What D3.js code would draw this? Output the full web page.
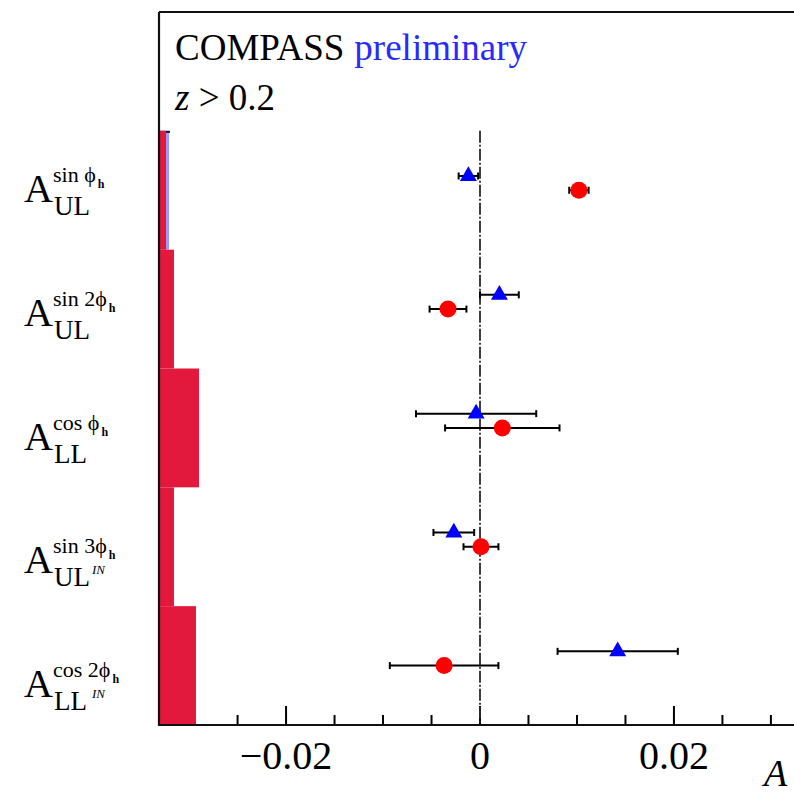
<!DOCTYPE html>
<html>
<head>
<meta charset="utf-8">
<script src="https://cdn.jsdelivr.net/npm/d3@7"></script>
<style>
  html, body { margin: 0; padding: 0; background: #fff; }
  svg { display: block; }
  text { font-family: "Liberation Serif", "DejaVu Serif", serif; }
</style>
</head>
<body>
<svg id="chart" width="794" height="796"></svg>
<script>
// Asymmetry labels, top to bottom
const labelSub   = ["UL", "UL", "LL", "UL", "LL"];
const labelSup   = ["sin \u03D5", "sin 2\u03D5", "cos \u03D5", "sin 3\u03D5", "cos 2\u03D5"];
const labelIN    = [false, false, false, true, true];

// Blue triangles: value and statistical error
const triValue   = [-0.0012, 0.0020, -0.0004, -0.0027, 0.0142];
const triError   = [0.0010, 0.0020, 0.0062, 0.0021, 0.0062];

// Red circles: value and statistical error
const circValue  = [0.0102, -0.0033, 0.0023, 0.0001, -0.0037];
const circError  = [0.0010, 0.0019, 0.0059, 0.0018, 0.0056];

// Systematic uncertainty bands drawn from the left edge
const sysRed     = [0.00062, 0.00144, 0.00402, 0.00144, 0.00371];
const sysBlue    = [0.00093, 0, 0, 0, 0];

// Axis ticks
const majorTicks = [-0.02, 0, 0.02];
const majorTickLabels = ["\u22120.02", "0", "0.02"];
const minorTicks = [-0.03, -0.025, -0.015, -0.01, -0.005, 0.005, 0.01, 0.015, 0.025, 0.03];

const svg = d3.select("#chart");
const frameLeft = 159, frameTop = 12, frameBottom = 725;

const x = d3.scaleLinear().domain([-0.033, 0.033]).range([160, 800]);
const y = d3.scaleLinear().domain([0, 6]).range([frameBottom, frameTop]);
const rowTop = i => y(5 - i), rowBot = i => y(4 - i);
const circY = i => y(4.5 - i), triY = i => y(4.62 - i);

// minor and major ticks on the bottom axis
const g = svg.append("g");
g.selectAll("line.minor").data(minorTicks).join("line").attr("class", "minor")
  .attr("x1", d => x(d)).attr("x2", d => x(d))
  .attr("y1", frameBottom).attr("y2", frameBottom - 10)
  .attr("stroke", "#000").attr("stroke-width", 2);
g.selectAll("line.major").data(majorTicks).join("line").attr("class", "major")
  .attr("x1", d => x(d)).attr("x2", d => x(d))
  .attr("y1", frameBottom).attr("y2", frameBottom - 19)
  .attr("stroke", "#000").attr("stroke-width", 2);

// systematic bands
const x0 = x.domain()[0];
const blueRows = sysBlue.map((v, i) => ({v, i})).filter(d => d.v > 0);
svg.append("g").selectAll("rect").data(blueRows).join("rect")
  .attr("x", x(x0) - 1).attr("y", d => rowTop(d.i))
  .attr("width", d => x(x0 + d.v) - x(x0) + 1)
  .attr("height", d => rowBot(d.i) - rowTop(d.i))
  .attr("fill", "#9a9aff");
svg.append("g").selectAll("line").data(blueRows).join("line")
  .attr("x1", x(x0) - 1).attr("x2", d => x(x0 + d.v) + 1)
  .attr("y1", d => rowTop(d.i) + 1).attr("y2", d => rowTop(d.i) + 1)
  .attr("stroke", "#101040").attr("stroke-width", 2);
svg.append("g").selectAll("rect").data(sysRed).join("rect")
  .attr("x", x(x0) - 1).attr("y", (d, i) => rowTop(i))
  .attr("width", d => x(x0 + d) - x(x0) + 1)
  .attr("height", (d, i) => rowBot(i) - rowTop(i))
  .attr("fill", "#e2183d");

// zero reference line
svg.append("line")
  .attr("x1", x(0)).attr("x2", x(0))
  .attr("y1", rowTop(0)).attr("y2", frameBottom)
  .attr("stroke", "#2a2a2a").attr("stroke-width", 1.8)
  .attr("stroke-dasharray", "12,2,2,2");

// frame
svg.append("line").attr("x1", frameLeft).attr("x2", 794).attr("y1", frameTop).attr("y2", frameTop)
  .attr("stroke", "#111").attr("stroke-width", 2.2);
svg.append("line").attr("x1", frameLeft).attr("x2", frameLeft).attr("y1", frameTop).attr("y2", frameBottom + 1)
  .attr("stroke", "#111").attr("stroke-width", 2.2);
svg.append("line").attr("x1", frameLeft).attr("x2", 794).attr("y1", frameBottom).attr("y2", frameBottom)
  .attr("stroke", "#111").attr("stroke-width", 2.2);

// tick labels
svg.append("g").selectAll("text").data(majorTicks).join("text")
  .attr("x", d => x(d)).attr("y", 769)
  .attr("text-anchor", "middle").attr("font-size", 40)
  .text((d, i) => majorTickLabels[i]);

// axis title
svg.append("text").attr("x", 764).attr("y", 786)
  .attr("font-size", 38).attr("font-style", "italic").text("A");

// error bars
function errorBars(vals, errs, yf) {
  const eb = svg.append("g").attr("stroke", "#000").attr("stroke-width", 2);
  vals.forEach((v, i) => {
    const yy = yf(i);
    eb.append("line").attr("x1", x(v - errs[i])).attr("x2", x(v + errs[i])).attr("y1", yy).attr("y2", yy);
    [v - errs[i], v + errs[i]].forEach(e =>
      eb.append("line").attr("x1", x(e)).attr("x2", x(e)).attr("y1", yy - 3.5).attr("y2", yy + 3.5));
  });
}
errorBars(triValue, triError, triY);
errorBars(circValue, circError, circY);

// markers
svg.append("g").selectAll("path").data(triValue).join("path")
  .attr("d", d3.symbol(d3.symbolTriangle, 125))
  .attr("transform", (d, i) => `translate(${x(d)},${triY(i)})`)
  .attr("fill", "#0000ff");
svg.append("g").selectAll("circle").data(circValue).join("circle")
  .attr("cx", d => x(d)).attr("cy", (d, i) => circY(i)).attr("r", 8.5)
  .attr("fill", "#ff0000");

// header text
const h1 = svg.append("text").attr("x", 175).attr("y", 60).attr("font-size", 37);
h1.append("tspan").attr("fill", "#000").text("COMPASS");
h1.append("tspan").attr("fill", "#2a2aff").attr("dx", 10).text("preliminary");
const h2 = svg.append("text").attr("x", 175).attr("y", 110).attr("font-size", 37);
h2.append("tspan").attr("font-style", "italic").text("z");
h2.append("tspan").text(" > 0.2");

// row labels
const labelBase = d3.scaleLinear().domain([0, 4]).range([202, 697]);
labelSub.forEach((sub, i) => {
  const by = labelBase(i);
  svg.append("text").attr("x", 24).attr("y", by).attr("font-size", 40).text("A");
  svg.append("text").attr("x", 54).attr("y", by + 13).attr("font-size", 27).text(sub);
  if (labelIN[i]) {
    svg.append("text").attr("x", 92).attr("y", by + 1).attr("font-size", 13)
      .attr("font-style", "italic").text("IN");
  }
  const sup = svg.append("text").attr("x", 53).attr("y", by - 20).attr("font-size", 22);
  sup.append("tspan").text(labelSup[i]);
  sup.append("tspan").attr("dx", 2).attr("dy", 6).attr("font-size", 12)
    .attr("font-weight", "bold").text("h");
});
</script>
</body>
</html>
